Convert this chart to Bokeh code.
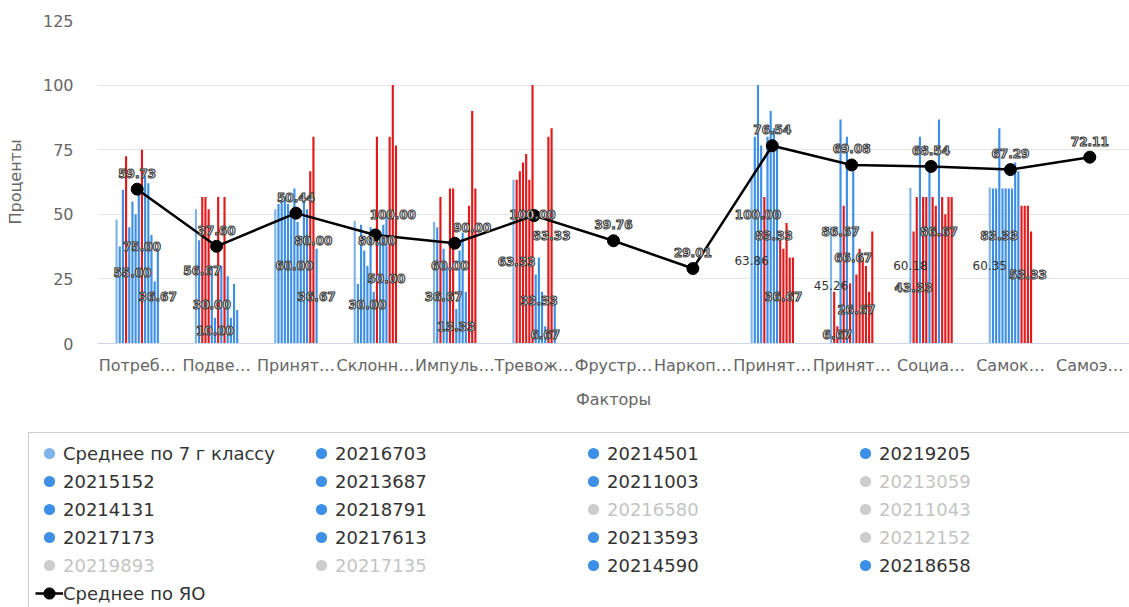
from bokeh.plotting import figure
from bokeh.models import ColumnDataSource, Legend, LegendItem, FixedTicker, Range1d
from bokeh.core.properties import value
from bokeh.embed import file_html
from bokeh.resources import INLINE

# ---------------- data ----------------
categories = ["Потреб…", "Подве…", "Принят…", "Склонн…", "Импуль…", "Тревож…",
              "Фрустр…", "Наркоп…", "Принят…", "Принят…", "Социа…", "Самок…", "Самоэ…"]
# True = risk factor (bar is red when far above the regional mean),
# False = protective factor (bar is red when far below the regional mean)
risk_factor = [True, True, True, True, True, True, True, True, False, False, False, False, False]

N = None
class_avg  = [48, 52, 52, 47.5, 47, 63.33, N, N, 63.86, 45.26, 60.18, 60.35, N]
s_20216703 = [37.5, 40, 54, 23, 45, 63.33, N, N, 80, 20, 43.33, 60, N]
s_20214501 = [59.5, 56.67, 55, 46, 56.67, 66.67, N, N, 100, 6.67, 56.67, 60, N]
s_20219205 = [72.5, 56.67, 57, 36, 36.67, 70, N, N, 76.67, 86.67, 80, 83.33, N]
s_20215152 = [45, 52, 54, 30, 30, 73.33, N, N, 56.67, 53.33, 56.67, 60, N]
s_20213687 = [55, 30, 50, 45, 60, 63.33, N, N, 80, 80, 56.67, 60, N]
s_20211003 = [50, 10, 60, 20, 60, 100, N, N, 90, 23.33, 66.67, 60, N]
s_20214131 = [58, 56.67, 47, 80, 13.33, 26.67, N, N, 83.33, 66.67, 56.67, 60, N]
s_20218791 = [75, 30, 41, 40, 36, 33.33, N, N, 76.67, 26.67, 53.33, 70, N]
s_20217173 = [65, 56.67, 56, 46, 43, 20, N, N, 40, 36.67, 86.67, 66.67, N]
s_20217613 = [62, 26, 52, 50, 20, 6.67, N, N, 36.67, 33.33, 56.67, 53.33, N]
s_20213593 = [42, 10, 66.67, 80, 53.33, 80, N, N, 46.67, 30, 50, 53.33, N]
s_20214590 = [24, 23, 80, 100, 90, 83.33, N, N, 33.33, 20, 56.67, 53.33, N]
s_20218658 = [36.67, 13, 36.67, 76.67, 60, 16.67, N, N, 33.33, 43.33, 56.67, 43.33, N]

region_avg = [59.73, 37.60, 50.44, 42.0, 38.8, 49.5, 39.76, 29.01, 76.54, 69.08, 68.54, 67.29, 72.11]
region_label_shown = [True, True, True, False, False, False, True, True, True, True, True, True, True]

bar_series = [
    ("Среднее по 7 г классу", class_avg),
    ("20216703", s_20216703), ("20214501", s_20214501), ("20219205", s_20219205),
    ("20215152", s_20215152), ("20213687", s_20213687), ("20211003", s_20211003),
    ("20214131", s_20214131), ("20218791", s_20218791), ("20217173", s_20217173),
    ("20217613", s_20217613), ("20213593", s_20213593), ("20214590", s_20214590),
    ("20218658", s_20218658),
]
hidden_series = ["20213059", "20216580", "20211043", "20212152", "20219893", "20217135"]
legend_order = ["Среднее по 7 г классу", "20216703", "20214501", "20219205",
                "20215152", "20213687", "20211003", "20213059",
                "20214131", "20218791", "20216580", "20211043",
                "20217173", "20217613", "20213593", "20212152",
                "20219893", "20217135", "20214590", "20218658"]
# which bars carry a visible value label: category index -> series indices
labelled_bars = {0: [5, 8, 13], 1: [2, 5, 6], 2: [6, 12, 13], 3: [4, 7, 10, 12],
                 4: [3, 5, 7, 12], 5: [1, 6, 8, 10, 12], 8: [0, 2, 7, 10],
                 9: [0, 2, 3, 7, 8], 10: [0, 1, 9], 11: [0, 3, 12]}

# ---------------- style ----------------
LIGHT_BLUE = "#7fb4e8"
BLUE = "#3c8fe4"
RED = "#e0191b"
FONT = "DejaVu Sans"
W = 1129
TOP_H = 432
LEG_H = 607 - TOP_H

p = figure(width=W, height=TOP_H, x_range=(-0.5, 12.5), y_range=(0, 125),
           output_backend="svg", toolbar_location=None, title=None,
           min_border_left=97, min_border_right=0, min_border_top=20,
           min_border_bottom=TOP_H - 343)
p.outline_line_color = None
p.background_fill_color = "white"

n = len(bar_series)
slot = 0.04
bar_w = 0.027

lab_x, lab_y, lab_t = [], [], []
plain_x, plain_y, plain_t = [], [], []
for i, (name, vals) in enumerate(bar_series):
    xs, tops, cols = [], [], []
    for c, v in enumerate(vals):
        if v is None:
            continue
        x = c + (i - (n - 1) / 2) * slot
        if i == 0:
            col = LIGHT_BLUE
        elif risk_factor[c]:
            col = RED if v > 1.2 * region_avg[c] else BLUE
        else:
            col = RED if v < 0.85 * region_avg[c] else BLUE
        xs.append(x); tops.append(v); cols.append(col)
        if i in labelled_bars.get(c, []):
            if i == 0:
                plain_x.append(x); plain_y.append(v / 2); plain_t.append(f"{v:.2f}")
            else:
                lab_x.append(x); lab_y.append(v / 2); lab_t.append(f"{v:.2f}")
    src = ColumnDataSource(dict(x=xs, top=tops, color=cols))
    p.vbar(x="x", top="top", width=bar_w, bottom=0, fill_color="color",
           line_color=None, source=src)

# regional mean line
cx = list(range(len(categories)))
line_r = p.line(cx, region_avg, line_color="black", line_width=2.5)
pts_r = p.scatter(cx, region_avg, size=12, fill_color="black", line_color="black")

p.text(x=plain_x, y=plain_y, text=plain_t, text_font=value(FONT), text_font_size="12px",
       text_color="#333333", text_align="center", text_baseline="middle")
p.text(x=lab_x, y=lab_y, text=lab_t, text_font=value(FONT), text_font_size="12px",
       text_font_style="bold", text_color="#eeeeee", text_outline_color="#333333",
       text_align="center", text_baseline="middle")
rx = [c for c in cx if region_label_shown[c]]
ry = [region_avg[c] for c in cx if region_label_shown[c]]
rt = [f"{region_avg[c]:.2f}" for c in cx if region_label_shown[c]]
p.text(x=rx, y=ry, text=rt, y_offset=-16, text_font=value(FONT), text_font_size="12px",
       text_font_style="bold", text_color="#eeeeee", text_outline_color="#333333",
       text_align="center", text_baseline="middle")

# axes
p.xgrid.grid_line_color = None
p.ygrid.grid_line_color = "#e6e6e6"
p.ygrid.ticker = FixedTicker(ticks=[0, 25, 50, 75, 100, 125])
p.yaxis.ticker = FixedTicker(ticks=[0, 25, 50, 75, 100, 125])
p.yaxis.axis_line_color = None
p.yaxis.major_tick_line_color = None
p.yaxis.minor_tick_line_color = None
p.yaxis.major_tick_out = 0
p.yaxis.major_label_standoff = 24
p.yaxis.axis_label = "Проценты"
p.yaxis.axis_label_standoff = 15
p.xaxis.ticker = FixedTicker(ticks=cx)
p.xaxis.major_label_overrides = {i: lbl for i, lbl in enumerate(categories)}
p.xaxis.axis_line_color = "#ccd6eb"
p.xaxis.major_tick_line_color = None
p.xaxis.minor_tick_line_color = None
p.xaxis.major_label_standoff = 6
p.xaxis.axis_label = "Факторы"
p.xaxis.axis_label_standoff = 12
for ax in (p.xaxis[0], p.yaxis[0]):
    ax.major_label_text_font = FONT
    ax.major_label_text_font_size = "16px"
    ax.major_label_text_color = "#666666"
    ax.axis_label_text_font = FONT
    ax.axis_label_text_font_size = "16px"
    ax.axis_label_text_font_style = "normal"
    ax.axis_label_text_color = "#666666"

# legend panel: a separate strip (its own root, so its frame starts at the left edge)
p2 = figure(width=W, height=LEG_H, x_range=Range1d(0, 1), y_range=Range1d(0, 1),
            output_backend="svg", toolbar_location=None, title=None,
            x_axis_location=None, y_axis_location=None,
            min_border_left=0, min_border_right=0, min_border_top=0, min_border_bottom=0)
p2.grid.visible = False
p2.outline_line_color = None

# legend swatches: one off-range point each so that the legend can draw them
off = dict(x=[-5], y=[-5])
visible_names = [name for name, _ in bar_series]
items = []
for name in legend_order:
    if name in visible_names:
        col = LIGHT_BLUE if name == visible_names[0] else BLUE
        r = p2.scatter(**off, fill_color=col, line_color=None)
    else:
        r = p2.scatter(**off, fill_color="#555555", line_color=None, visible=False)
    items.append(LegendItem(label=name, renderers=[r]))
l2 = p2.line(x=[-5, -4], y=[-5, -5], line_color="black", line_width=2.5)
s2 = p2.scatter(**off, fill_color="black", line_color="black")
items.append(LegendItem(label="Среднее по ЯО", renderers=[l2, s2]))

ROW = 28
PAD = 6
nrows = 6
leg_h = 2 * PAD + nrows * ROW
legend = Legend(items=items, orientation="horizontal", ncols=4,
                location=(28, LEG_H - leg_h - 2), padding=PAD, spacing=0, margin=0,
                glyph_width=28, glyph_height=ROW, label_standoff=0,
                label_width=244, label_height=ROW,
                label_text_font=FONT, label_text_font_size="18px",
                label_text_color="#333333",
                border_line_color="#999999", border_line_width=1,
                background_fill_color="white", background_fill_alpha=1,
                click_policy="hide", inactive_fill_color="white", inactive_fill_alpha=0.7)
p2.add_layout(legend)

open("out.html", "w").write(file_html([p, p2], INLINE))
